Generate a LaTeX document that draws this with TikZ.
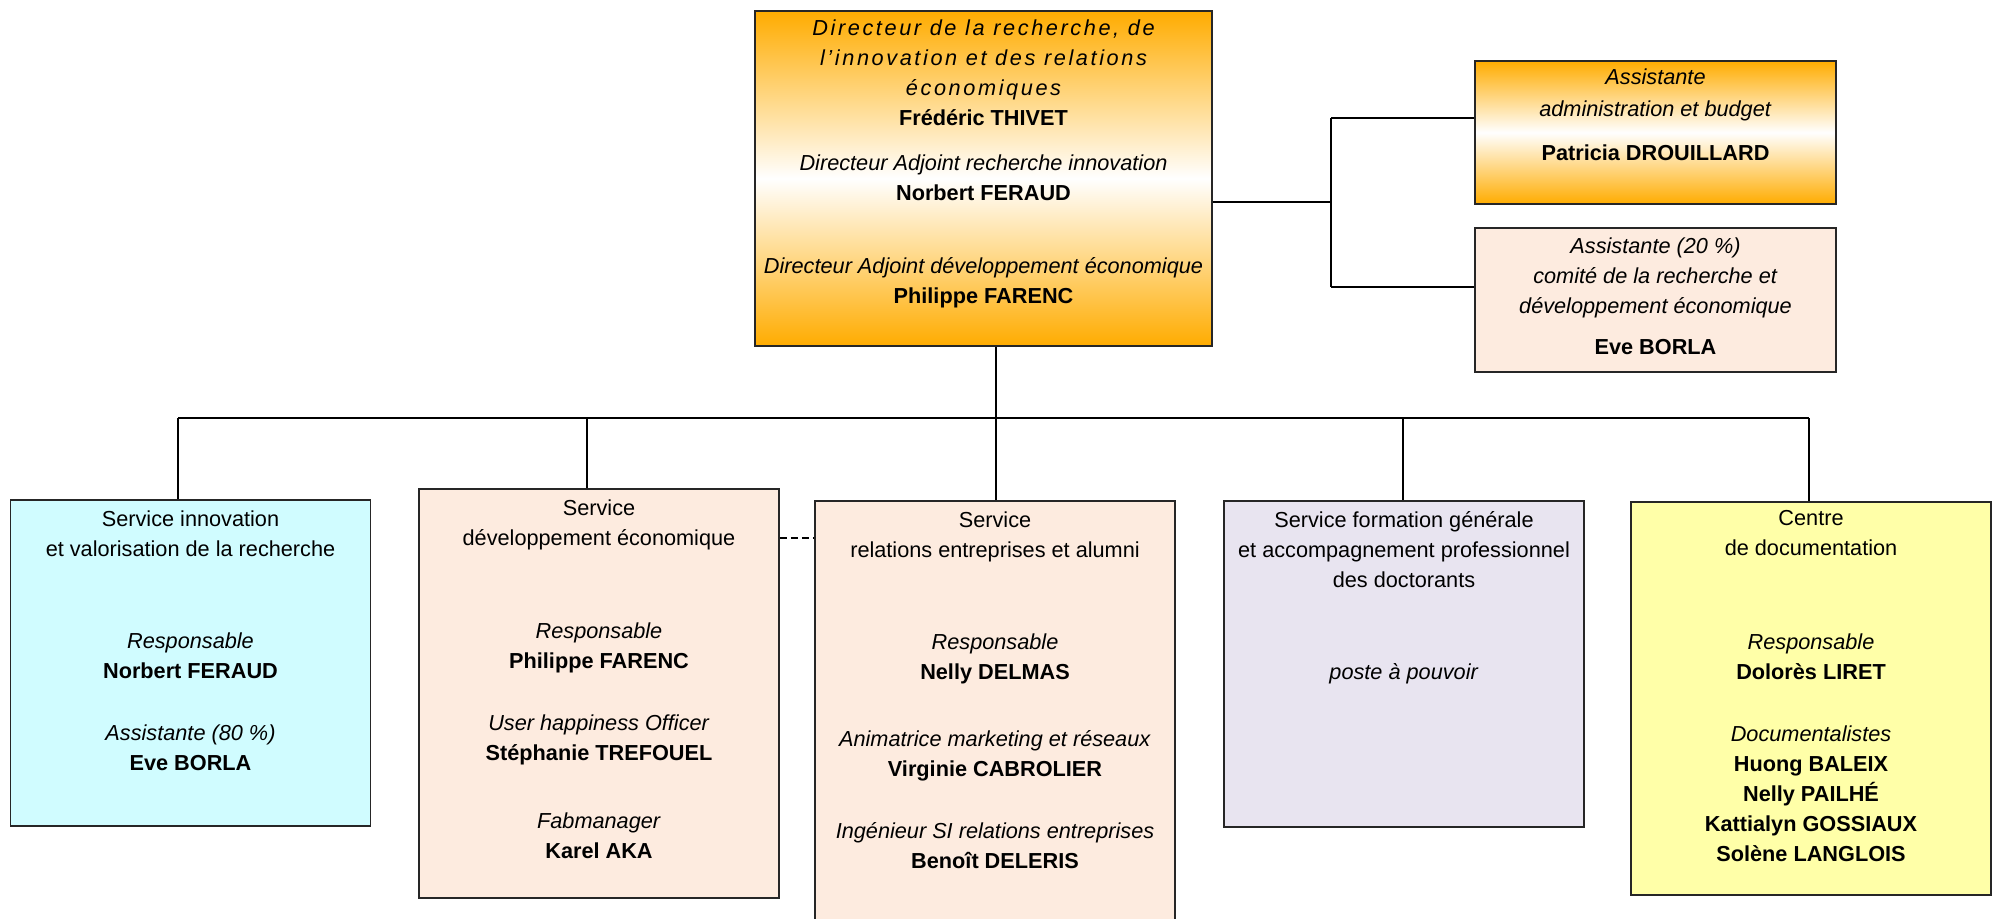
\documentclass[tikz,border=0pt]{standalone}
\usepackage{fontspec}
\setmainfont{Liberation Sans}
\definecolor{orangeA}{RGB}{255,172,0}
\definecolor{peach}{RGB}{253,235,223}
\definecolor{cyanlight}{RGB}{208,252,255}
\definecolor{lavender}{RGB}{232,228,240}
\definecolor{yellowlight}{RGB}{255,255,168}
\newcommand{\spacedit}{\itshape\addfontfeature{LetterSpace=12}}
\tikzset{
  box/.style={draw=black!85, line width=0.8pt, inner sep=0pt},
  glow/.style={top color=orangeA, bottom color=orangeA, middle color=white},
  txt/.style={anchor=north, align=center, inner sep=0pt, font=\fontsize{10.85}{15}\selectfont},
  link/.style={draw=black, line width=1.3pt},
  dashlink/.style={link, dash pattern=on 3.5pt off 2pt}
}
\begin{document}
\begin{tikzpicture}[x=0.5pt,y=-0.5pt]
  \clip (0,0) rectangle (1996,918);
  \node[box, glow, minimum width=228.5pt, minimum height=167.5pt] (dir) at (983.5,178.5) {};
  \node[box, glow, minimum width=180.5pt, minimum height=71.5pt] (adm) at (1655.5,132.5) {};
  \node[box, fill=peach, minimum width=180.5pt, minimum height=72pt] (com) at (1655.5,300) {};
  \node[box, fill=cyanlight, minimum width=180pt, minimum height=163pt] (inno) at (190.5,663) {};
  \node[box, fill=peach, minimum width=180pt, minimum height=204.5pt] (dev) at (599,693.5) {};
  \node[box, fill=peach, minimum width=180pt, minimum height=215pt] (rel) at (995,716) {};
  \node[box, fill=lavender, minimum width=180pt, minimum height=163pt] (form) at (1404,664) {};
  \node[box, fill=yellowlight, minimum width=180pt, minimum height=196.5pt] (doc) at (1811,698.5) {};

  \node[txt] (dirtxt) at (983.5,19) {%
    {\spacedit Directeur de la recherche, de}\\
    {\spacedit l’innovation et des relations}\\
    {\spacedit économiques}\\
    \textbf{Frédéric THIVET}\\[7.5pt]
    \textit{Directeur Adjoint recherche innovation}\\
    \textbf{Norbert FERAUD}\\[21.5pt]
    \textit{Directeur Adjoint développement économique}\\
    \textbf{Philippe FARENC}};
  \node[txt] (admtxt) at (1655.5,68) {%
    \textit{Assistante}\\[1pt]
    \textit{administration et budget}\\[7pt]
    \textbf{Patricia DROUILLARD}};
  \node[txt] (comtxt) at (1655.5,237) {%
    \textit{Assistante (20 \%)}\\
    \textit{comité de la recherche et}\\
    \textit{développement économique}\\[5.5pt]
    \textbf{Eve BORLA}};
  \node[txt] (innotxt) at (190.5,510) {%
    Service innovation\\
    et valorisation de la recherche\\[31pt]
    \textit{Responsable}\\
    \textbf{Norbert FERAUD}\\[16pt]
    \textit{Assistante (80 \%)}\\
    \textbf{Eve BORLA}};
  \node[txt] (devtxt) at (599,499) {%
    Service\\
    développement économique\\[31.5pt]
    \textit{Responsable}\\
    \textbf{Philippe FARENC}\\[16pt]
    \textit{User happiness Officer}\\
    \textbf{Stéphanie TREFOUEL}\\[19pt]
    \textit{Fabmanager}\\
    \textbf{Karel AKA}};
  \node[txt] (reltxt) at (995,511) {%
    Service\\
    relations entreprises et alumni\\[31pt]
    \textit{Responsable}\\
    \textbf{Nelly DELMAS}\\[18.5pt]
    \textit{Animatrice marketing et réseaux}\\
    \textbf{Virginie CABROLIER}\\[16pt]
    \textit{Ingénieur SI relations entreprises}\\
    \textbf{Benoît DELERIS}};
  \node[txt] (formtxt) at (1404,511) {%
    Service formation générale\\
    et accompagnement professionnel\\
    des doctorants\\[31pt]
    \textit{poste à pouvoir}};
  \node[txt] (doctxt) at (1811,510) {%
    Centre\\
    de documentation\\[32pt]
    \textit{Responsable}\\
    \textbf{Dolorès LIRET}\\[16pt]
    \textit{Documentalistes}\\
    \textbf{Huong BALEIX}\\
    \textbf{Nelly PAILHÉ}\\
    \textbf{Kattialyn GOSSIAUX}\\
    \textbf{Solène LANGLOIS}};

  \coordinate (hub) at (996,418);
  \coordinate (bus1) at (178,418);
  \coordinate (bus2) at (587,418);
  \coordinate (bus3) at (996,418);
  \coordinate (bus4) at (1403,418);
  \coordinate (bus5) at (1809,418);
  \coordinate (fork) at (1331,202);
  \coordinate (forkA) at (1331,118);
  \coordinate (forkB) at (1331,287);
  \coordinate (dashy) at (797,538);
  \begin{scope}[link]
    \draw (hub |- dir.south) -- (hub);
    \draw (bus1) -- (bus5);
    \foreach \b/\n in {bus1/inno, bus2/dev, bus3/rel, bus4/form, bus5/doc}
      \draw (\b) -- (\b |- \n.north);
    \draw (fork -| dir.east) -- (fork);
    \draw (forkA) -- (forkB);
    \draw (forkA) -- (forkA -| adm.west);
    \draw (forkB) -- (forkB -| com.west);
  \end{scope}
  \draw[dashlink] (dashy -| dev.east) -- (dashy -| rel.west);
\end{tikzpicture}
\end{document}
